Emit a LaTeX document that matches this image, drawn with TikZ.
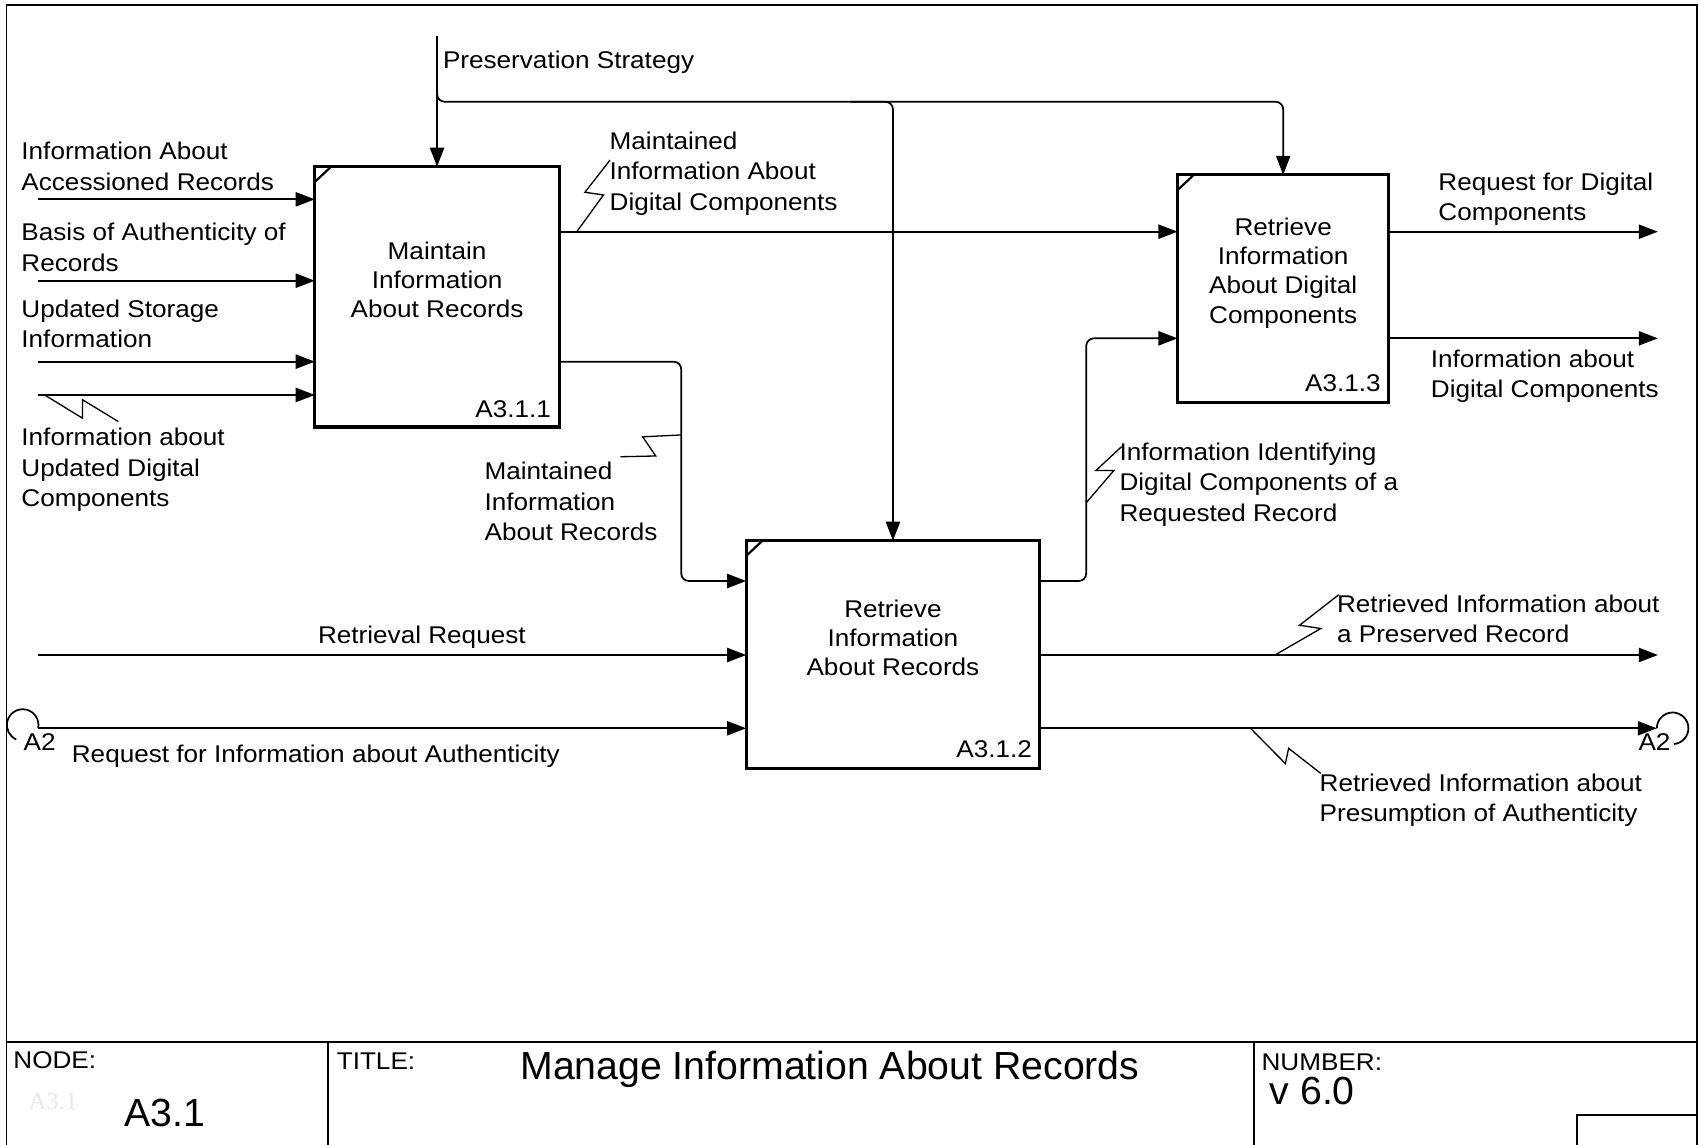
\documentclass[tikz,border=0pt]{standalone}
\usepackage{fontspec}
\setmainfont{Liberation Sans}
\newfontfamily\idefsans{Liberation Sans}[FakeStretch=1.08]
\newfontfamily\idefserif{Liberation Serif}
\usetikzlibrary{arrows.meta}

% fonts of the diagram
\newcommand\lblfont{\idefsans\fontsize{22.2}{28}\selectfont}
\newcommand\fnfont{\idefsans\fontsize{22.2}{26.8}\selectfont}
\newcommand\tbbig{\fontsize{36}{40}\selectfont}

\begin{document}
\begin{tikzpicture}[x=1pt,y=-1pt,
  conn/.style={line width=1.6pt, rounded corners=7pt},
  arr/.style={conn, -{Triangle[length=17.5pt,width=13pt]}},
  squig/.style={line width=1.2pt},
  fbox/.style={draw, line width=3pt, inner sep=0pt, outer sep=0pt},
  corner/.style={line width=2pt},
  fn/.style={font=\fnfont, align=center, anchor=north, inner sep=0pt},
  lbl/.style={font=\lblfont, align=left, anchor=north west, inner sep=0pt},
  idlbl/.style={font=\lblfont, anchor=base east, inner sep=0pt},
  tb/.style={line width=1.5pt},
  tbtext/.style={font=\lblfont, anchor=base west, inner sep=0pt}
]
\useasboundingbox (0,0) rectangle (1568,1051);

% outer frame
\draw[tb] (6,1060) -- (6,4.5) -- (1558,4.5) -- (1558,1060);

% activity boxes
\node[fbox, minimum width=224.5pt, minimum height=239pt] (b1) at (401.25,272.5) {};
\node[fbox, minimum width=269.5pt, minimum height=209pt] (b2) at (819.75,600.85) {};
\node[fbox, minimum width=194pt, minimum height=209.2pt] (b3) at (1178,265.1) {};
\foreach \b in {b1,b2,b3}
  \draw[corner] ([yshift=-14pt]\b.north west) -- ([xshift=15pt]\b.north west);

\node[fn] (t1) at (401.25,219.2) {\strut Maintain\\Information\\About Records};
\node[fn] (t2) at (819.75,547.7) {\strut Retrieve\\Information\\About Records};
\node[fn] (t3) at (1178,197.2) {\strut Retrieve\\Information\\About Digital\\Components};

\node[idlbl] (n1) at (506,383.5) {A3.1.1};
\node[idlbl] (n2) at (947.5,695) {A3.1.2};
\node[idlbl] (n3) at (1267.7,359.6) {A3.1.3};

% reference levels of the arrows
\coordinate (lvA) at (0,212.7);
\coordinate (lvB) at (0,332);
\coordinate (lvC) at (0,533.4);
\coordinate (lvD) at (0,310.6);

% control: preservation strategy
\coordinate (ps) at (401.25,33);
\coordinate (psbus) at (0,93.4);
\coordinate (psdrop) at (401.25,70);
\coordinate (psj) at (780,93.4);
\draw[arr] (ps) -- (b1.north);
\draw[arr] (psdrop) |- (b3.north |- psbus) -- (b3.north);
\draw[arr] (psj) -| (b2.north);

% inputs of A3.1.1
\coordinate (i1) at (35,183);
\coordinate (i2) at (35,257.7);
\coordinate (i3) at (35,332);
\coordinate (i4) at (35,362.6);
\foreach \c in {i1,i2,i3,i4}
  \draw[arr] (\c) -- (b1.west |- \c);

% A3.1.1 outputs
\draw[arr] (b1.east |- lvA) -- (b3.west |- lvA);
\coordinate (v1) at (625.4,450);
\draw[arr] (b1.east |- lvB) -| (v1) |- (b2.west |- lvC);

% A3.1.2 output to A3.1.3
\coordinate (v2) at (997.2,420);
\draw[arr] (b2.east |- lvC) -| (v2) |- (b3.west |- lvD);

% A3.1.3 outputs
\coordinate (o1) at (1522,212.7);
\coordinate (o2) at (1522,310.6);
\draw[arr] (b3.east |- o1) -- (o1);
\draw[arr] (b3.east |- o2) -- (o2);

% A3.1.2 inputs
\coordinate (rr) at (35,601.3);
\coordinate (ra) at (35,668.6);
\draw[arr] (rr) -- (b2.west |- rr);
\draw[arr] (ra) -- (b2.west |- ra);
\draw[conn] (ra) arc[start angle=12, end angle=-246, radius=14.5];

% A3.1.2 outputs
\coordinate (o3) at (1522,601.3);
\coordinate (o4) at (1521,668.6);
\draw[arr] (b2.east |- o3) -- (o3);
\draw[arr] (b2.east |- o4) -- (o4);
\draw[conn] (o4) arc[start angle=-180, end angle=85, radius=14.5];

% arrow labels
\node[lbl] (l1) at (406.5,43.4) {\strut Preservation Strategy};
\node[lbl] (l2) at (19.5,126.7) {\strut Information About\\Accessioned Records};
\node[lbl] (l3) at (19.5,201.4) {\strut Basis of Authenticity of\\Records};
\node[lbl] (l4) at (19.5,271.4) {\strut Updated Storage\\Information};
\node[lbl] (l5) at (19.5,389.4) {\strut Information about\\Updated Digital\\Components};
\node[lbl] (l6) at (559.5,117.4) {\strut Maintained\\Information About\\Digital Components};
\node[lbl] (l7) at (444.7,420.8) {\strut Maintained\\Information\\About Records};
\node[lbl] (l8) at (1027.6,402.7) {\strut Information Identifying\\Digital Components of a\\Requested Record};
\node[lbl] (l9) at (1320.3,154.8) {\strut Request for Digital\\Components};
\node[lbl] (l10) at (1313.4,317.4) {\strut Information about\\Digital Components};
\node[lbl] (l11) at (1227.3,542.4) {\strut Retrieved Information about\\a Preserved Record};
\node[lbl] (l12) at (1211.3,706.4) {\strut Retrieved Information about\\Presumption of Authenticity};
\node[lbl, anchor=north] (l13) at (387.3,571.2) {\strut Retrieval Request};
\node[lbl] (l14) at (65.8,679.8) {\strut Request for Information about Authenticity};
\node[lbl] (l15) at (21.5,669) {\strut A2};
\node[lbl] (l16) at (1504,669) {\strut A2};

% label leaders
\draw[squig] (529.5,212.7) -- (554,179) -- (537,176.5) -- (560,147);
\draw[squig] (625.4,399.3) -- (590,401) -- (602,418.6) -- (569.6,419.3);
\draw[squig] (41,362.6) -- (75.8,384) -- (75.8,367) -- (108.6,387);
\draw[squig] (997.2,461.5) -- (1022.5,432) -- (1006,432) -- (1029.7,410);
\draw[squig] (1170.5,601.3) -- (1212.5,577) -- (1193,574) -- (1229,546);
\draw[squig] (1148,668.6) -- (1180,701) -- (1183,687) -- (1212.5,710);

% title block
\draw[tb] (6,956.5) -- (1558,956.5);
\draw[tb] (301.4,956.5) -- (301.4,1060);
\draw[tb] (1151,956.5) -- (1151,1060);
\draw[tb] (1448,1060) -- (1448,1023.6) -- (1558,1023.6);

\node[tbtext] (nodehd) at (12.1,981) {NODE:};
\node[tbtext, font=\idefserif\fontsize{22.8}{26}\selectfont, text=black!9] (nodeghost) at (26,1019) {A3.1};
\node[tbtext, font=\tbbig] (nodeval) at (113.8,1033.7) {A3.1};
\node[tbtext] (titlehd) at (309,981.5) {TITLE:};
\node[tbtext, font=\tbbig] (titleval) at (477.5,991) {Manage Information About Records};
\node[tbtext] (numhd) at (1158,982.3) {NUMBER:};
\node[tbtext, font=\tbbig] (numval) at (1165.5,1013.5) {v 6.0};
\end{tikzpicture}
\end{document}
